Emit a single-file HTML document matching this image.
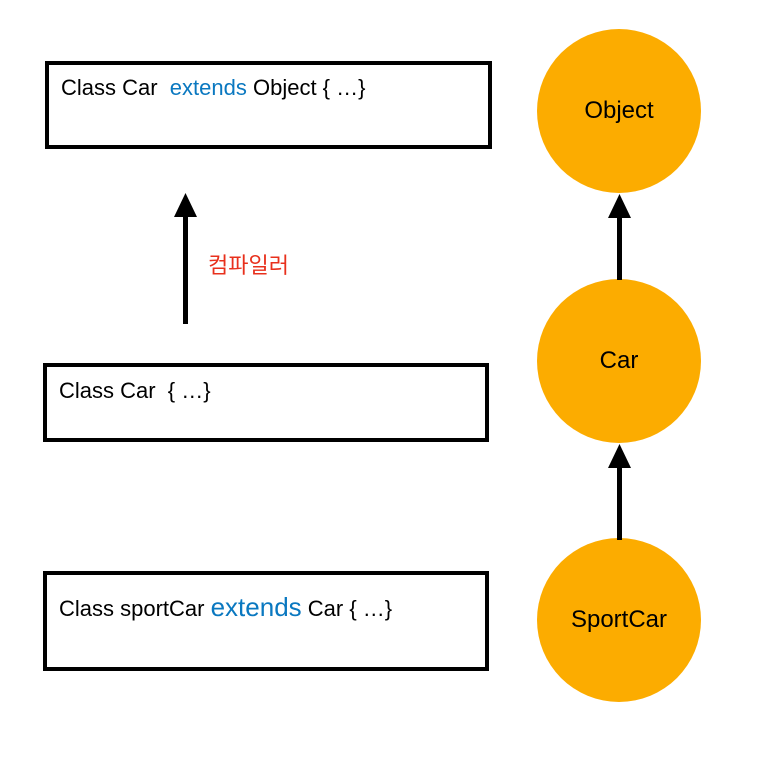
<!DOCTYPE html>
<html><head><meta charset="utf-8"><style>
body{margin:0;width:758px;height:764px;background:#fff;position:relative;overflow:hidden;font-family:"Liberation Sans","Noto Sans CJK KR",sans-serif;}
.b{position:absolute;border:4px solid #000;box-sizing:border-box;background:#fff}
.t{position:absolute;font-size:22px;color:#000;white-space:pre}
.bl{color:#0a78c0}
.c{position:absolute;width:164px;height:164px;border-radius:50%;background:#fcac00;display:flex;align-items:center;justify-content:center;font-size:24px;color:#000}
</style></head><body>
<div class="b" style="left:45px;top:61px;width:447px;height:88px"></div>
<div class="t" style="left:61px;top:75px">Class Car  <span class="bl">extends</span> Object { …}</div>
<div class="b" style="left:43px;top:363px;width:446px;height:79px"></div>
<div class="t" style="left:59px;top:378px">Class Car  { …}</div>
<div class="b" style="left:43px;top:571px;width:446px;height:100px"></div>
<div class="t" style="left:59px;top:592px">Class sportCar <span class="bl" style="font-size:26px">extends</span> Car { …}</div>
<div class="t" style="left:208px;top:248px;color:#e8301c;font-size:22px">컴파일러</div>
<div class="c" style="left:537px;top:29px">Object</div>
<div class="c" style="left:537px;top:279px">Car</div>
<div class="c" style="left:537px;top:538px">SportCar</div>
<svg width="758" height="764" style="position:absolute;left:0;top:0">
<g fill="#000" stroke="none">
<rect x="183" y="214" width="5" height="110"/><polygon points="185.5,193 174,217 197,217"/>
<rect x="617" y="216" width="5" height="64"/><polygon points="619.5,194 608,218 631,218"/>
<rect x="617" y="466" width="5" height="74"/><polygon points="619.5,444 608,468 631,468"/>
</g></svg>
</body></html>
